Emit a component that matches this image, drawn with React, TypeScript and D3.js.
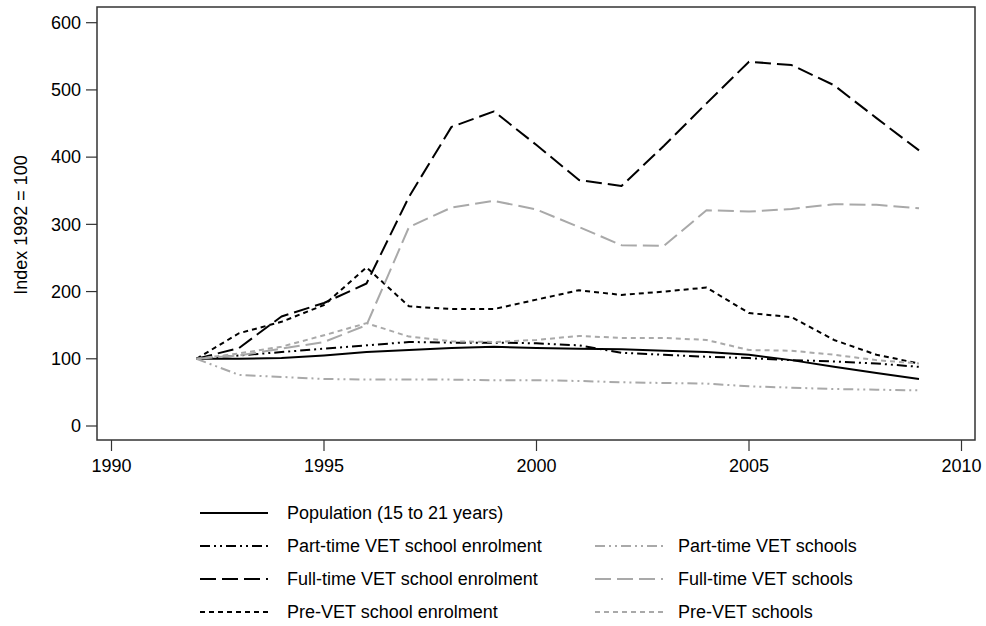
import React, { useRef, useEffect } from 'react';
import * as d3 from 'd3';

const years = [1992, 1993, 1994, 1995, 1996, 1997, 1998, 1999, 2000, 2001, 2002, 2003, 2004, 2005, 2006, 2007, 2008, 2009];

const population = [100, 100, 101, 105, 110, 113, 116, 118, 116, 115, 114, 112, 110, 106, 98, 88, 79, 70];
const partTimeEnrol = [100, 105, 110, 115, 120, 125, 124, 124, 123, 120, 109, 106, 103, 101, 98, 96, 93, 88];
const fullTimeEnrol = [100, 116, 163, 183, 212, 341, 445, 468, 418, 366, 357, 417, 480, 542, 537, 507, 458, 410];
const preVetEnrol = [100, 138, 155, 180, 236, 178, 174, 174, 188, 202, 195, 200, 206, 168, 162, 128, 106, 93];
const partTimeSchools = [100, 76, 73, 70, 69, 69, 69, 68, 68, 67, 65, 64, 63, 59, 57, 55, 54, 53];
const fullTimeSchools = [100, 105, 115, 125, 150, 296, 325, 335, 322, 296, 269, 268, 321, 319, 323, 330, 329, 324];
const preVetSchools = [100, 108, 118, 135, 153, 133, 126, 125, 128, 134, 131, 131, 128, 113, 112, 106, 98, 93];

const xTicks = [1990, 1995, 2000, 2005, 2010];
const yTicks = [0, 100, 200, 300, 400, 500, 600];

const BLACK = '#000';
const GREY = '#a9a9a9';

const series = [
  { name: 'Population (15 to 21 years)', values: population, color: BLACK, dash: null, col: 0, row: 0 },
  { name: 'Part-time VET school enrolment', values: partTimeEnrol, color: BLACK, dash: '10,4,2,4,2,4', col: 0, row: 1 },
  { name: 'Full-time VET school enrolment', values: fullTimeEnrol, color: BLACK, dash: '16,6', col: 0, row: 2 },
  { name: 'Pre-VET school enrolment', values: preVetEnrol, color: BLACK, dash: '5,4', col: 0, row: 3 },
  { name: 'Part-time VET schools', values: partTimeSchools, color: GREY, dash: '10,4,2,4,2,4', col: 1, row: 1 },
  { name: 'Full-time VET schools', values: fullTimeSchools, color: GREY, dash: '16,6', col: 1, row: 2 },
  { name: 'Pre-VET schools', values: preVetSchools, color: GREY, dash: '5,4', col: 1, row: 3 },
];

const FONT = '"Liberation Sans", Arial, sans-serif';

function App() {
  const ref = useRef<SVGSVGElement>(null);

  useEffect(() => {
    const svg = d3.select(ref.current);
    svg.selectAll('*').remove();

    const x = d3.scaleLinear().domain([1990, 2010]).range([111.5, 961.5]);
    const y = d3.scaleLinear().domain([0, 600]).range([426, 22.7]);

    // plot frame
    svg.append('rect')
      .attr('x', 97).attr('y', 7)
      .attr('width', 975 - 97).attr('height', 440 - 7)
      .attr('fill', 'none').attr('stroke', '#333').attr('stroke-width', 1.5);

    // y axis
    const yg = svg.append('g').attr('transform', 'translate(97,0)');
    yg.selectAll('line').data(yTicks).enter().append('line')
      .attr('x1', -11).attr('x2', 0)
      .attr('y1', d => y(d)).attr('y2', d => y(d))
      .attr('stroke', '#333').attr('stroke-width', 1.2);
    yg.selectAll('text').data(yTicks).enter().append('text')
      .attr('x', -16).attr('y', d => y(d)).attr('dy', '0.35em')
      .attr('text-anchor', 'end')
      .style('font-family', FONT).style('font-size', '18px')
      .text(d => d);

    svg.append('text')
      .attr('transform', 'translate(27,225) rotate(-90)')
      .attr('text-anchor', 'middle')
      .style('font-family', FONT).style('font-size', '18px')
      .text('Index 1992 = 100');

    // x axis
    const xg = svg.append('g').attr('transform', 'translate(0,440)');
    xg.selectAll('line').data(xTicks).enter().append('line')
      .attr('x1', d => x(d)).attr('x2', d => x(d))
      .attr('y1', 0).attr('y2', 11)
      .attr('stroke', '#333').attr('stroke-width', 1.2);
    xg.selectAll('text').data(xTicks).enter().append('text')
      .attr('x', d => x(d)).attr('y', 32)
      .attr('text-anchor', 'middle')
      .style('font-family', FONT).style('font-size', '18px')
      .text(d => d);

    const line = d3.line<number>()
      .x((_, i) => x(years[i]))
      .y(d => y(d));

    // data lines
    series.forEach(s => {
      svg.append('path')
        .datum(s.values)
        .attr('d', line)
        .attr('fill', 'none')
        .attr('stroke', s.color)
        .attr('stroke-width', 2)
        .attr('stroke-dasharray', s.dash)
        .attr('stroke-linejoin', 'round');
    });

    // legend
    const legX = [200, 595];
    const legY = [513, 546, 579, 612];
    const legend = svg.append('g');
    series.forEach(s => {
      const lx = legX[s.col];
      const ly = legY[s.row];
      legend.append('line')
        .attr('x1', lx).attr('x2', lx + 68)
        .attr('y1', ly).attr('y2', ly)
        .attr('stroke', s.color).attr('stroke-width', 2)
        .attr('stroke-dasharray', s.dash);
      legend.append('text')
        .attr('x', lx + (s.col === 0 ? 87 : 83)).attr('y', ly).attr('dy', '0.35em')
        .style('font-family', FONT).style('font-size', '18px')
        .text(s.name);
    });
  }, []);

  return (
    <svg ref={ref} width={986} height={626}
      style={{ position: 'absolute', left: 0, top: 0, background: '#fff' }} />
  );
}

export default App;
